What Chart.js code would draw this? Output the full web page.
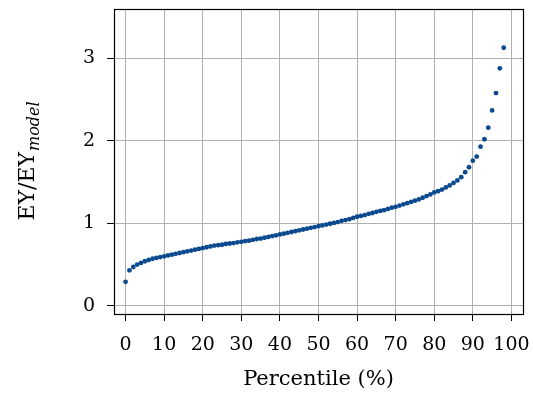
<!DOCTYPE html>
<html>
<head>
<meta charset="utf-8">
<script src="https://cdn.jsdelivr.net/npm/chart.js@4/dist/chart.umd.min.js"></script>
<style>
  html, body { margin: 0; padding: 0; background: #fff; }
  #wrap { width: 533px; height: 396px; }
</style>
</head>
<body>
<div id="wrap"><canvas id="chart" width="533" height="396"></canvas></div>
<script>
/* ================================================
   EY / EY_model by percentile
   ================================================ */

const percentiles = [
   0,  1,  2,  3,  4,  5,  6,  7,  8,  9,
  10, 11, 12, 13, 14, 15, 16, 17, 18, 19,
  20, 21, 22, 23, 24, 25, 26, 27, 28, 29,
  30, 31, 32, 33, 34, 35, 36, 37, 38, 39,
  40, 41, 42, 43, 44, 45, 46, 47, 48, 49,
  50, 51, 52, 53, 54, 55, 56, 57, 58, 59,
  60, 61, 62, 63, 64, 65, 66, 67, 68, 69,
  70, 71, 72, 73, 74, 75, 76, 77, 78, 79,
  80, 81, 82, 83, 84, 85, 86, 87, 88, 89,
  90, 91, 92, 93, 94, 95, 96, 97, 98,
];

const ratios = [
  0.29, 0.43, 0.47, 0.50, 0.52, 0.54, 0.555, 0.57, 0.58, 0.59,
  0.60, 0.61, 0.62, 0.63, 0.64, 0.65, 0.66, 0.67, 0.68, 0.69,
  0.70, 0.71, 0.72, 0.73, 0.735, 0.74, 0.75, 0.755, 0.76, 0.77,
  0.775, 0.785, 0.79, 0.80, 0.81, 0.815, 0.825, 0.835, 0.845, 0.855,
  0.865, 0.875, 0.885, 0.895, 0.905, 0.915, 0.925, 0.935, 0.945, 0.955,
  0.965, 0.975, 0.985, 0.995, 1.005, 1.015, 1.03, 1.04, 1.05, 1.065,
  1.08, 1.09, 1.10, 1.115, 1.125, 1.14, 1.15, 1.16, 1.175, 1.19,
  1.20, 1.215, 1.23, 1.245, 1.26, 1.275, 1.29, 1.31, 1.33, 1.35,
  1.375, 1.39, 1.41, 1.435, 1.46, 1.49, 1.52, 1.56, 1.62, 1.68,
  1.76, 1.81, 1.93, 2.02, 2.16, 2.37, 2.58, 2.88, 3.13,
];

const xTicks = [0, 10, 20, 30, 40, 50, 60, 70, 80, 90, 100];
const yTicks = [0, 1, 2, 3];

const xTitle     = 'Percentile (%)';
const yTitleMain = 'EY/EY';
const yTitleSub  = 'model';

const SERIF = "'DejaVu Serif', serif";

// full box around the plot, like matplotlib spines
const frameBox = {
  id: 'frameBox',
  afterDraw(chart) {
    const { ctx, chartArea: a } = chart;
    ctx.save();
    ctx.strokeStyle = '#000';
    ctx.lineWidth = 1.2;
    ctx.strokeRect(Math.round(a.left) + 0.5, Math.round(a.top) + 0.5,
                   Math.round(a.right - a.left), Math.round(a.bottom - a.top));
    ctx.restore();
  },
};

// y title with an italic subscript
const yTitle = {
  id: 'yTitle',
  afterDraw(chart) {
    const { ctx, chartArea: a } = chart;
    ctx.save();
    ctx.translate(34, (a.top + a.bottom) / 2);
    ctx.rotate(-Math.PI / 2);
    ctx.fillStyle = '#000';
    ctx.textBaseline = 'alphabetic';
    ctx.font = `22px ${SERIF}`;
    const w1 = ctx.measureText(yTitleMain).width;
    ctx.font = `italic 16px ${SERIF}`;
    const w2 = ctx.measureText(yTitleSub).width;
    const x0 = -(w1 + w2) / 2;
    ctx.font = `22px ${SERIF}`;
    ctx.fillText(yTitleMain, x0, 0);
    ctx.font = `italic 16px ${SERIF}`;
    ctx.fillText(yTitleSub, x0 + w1 + 1, 5);
    ctx.restore();
  },
};

// drop the extra room Chart.js keeps for edge tick labels
const noEdgePad = s => {
  s.paddingTop = 0; s.paddingBottom = 0;
  s.paddingLeft = 0; s.paddingRight = 0;
};

const tickFont = { family: SERIF, size: 19 };

new Chart(document.getElementById('chart').getContext('2d'), {
  type: 'scatter',
  data: {
    datasets: [{
      data: percentiles.map((p, i) => ({ x: p, y: ratios[i] })),
      backgroundColor: '#0b4a8e',
      borderWidth: 0,
      pointRadius: 2.4,
    }],
  },
  options: {
    responsive: false,
    animation: false,
    layout: { padding: { top: 9, right: 10, left: 0, bottom: 0 } },
    plugins: {
      legend: { display: false },
      tooltip: { enabled: false },
    },
    scales: {
      x: {
        type: 'linear',
        min: -3,
        max: 103,
        afterBuildTicks: s => { s.ticks = xTicks.map(v => ({ value: v })); },
        afterFit: s => { s.height = 82; noEdgePad(s); },
        ticks: { color: '#000', font: tickFont, padding: 13, maxRotation: 0 },
        grid: { color: '#b0b0b0', lineWidth: 1, tickColor: '#000', tickLength: 7 },
        border: { display: false },
        title: {
          display: true, text: xTitle, color: '#000',
          font: { family: SERIF, size: 21 }, padding: { top: 2 },
        },
      },
      y: {
        min: -0.1,
        max: 3.6,
        afterBuildTicks: s => { s.ticks = yTicks.map(v => ({ value: v })); },
        afterFit: s => { s.width = 114; noEdgePad(s); },
        ticks: { color: '#000', font: tickFont, padding: 12 },
        grid: { color: '#b0b0b0', lineWidth: 1, tickColor: '#000', tickLength: 7 },
        border: { display: false },
      },
    },
  },
  plugins: [frameBox, yTitle],
});
</script>
</body>
</html>
